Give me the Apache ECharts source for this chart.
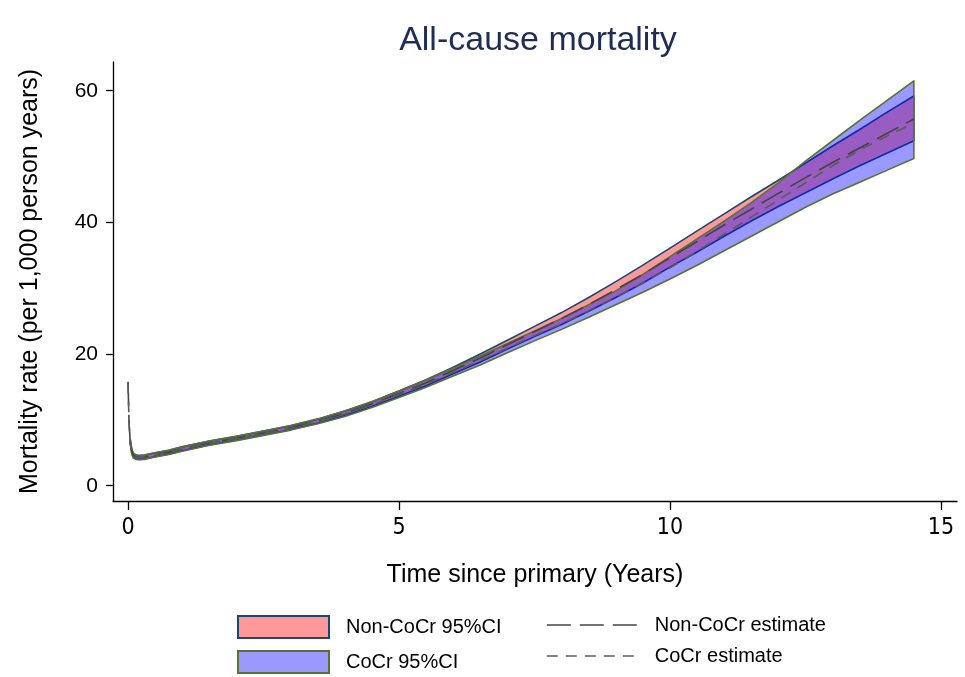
<!DOCTYPE html>
<html>
<head>
<meta charset="utf-8">
<script src="https://cdn.jsdelivr.net/npm/echarts@6/dist/echarts.min.js"></script>
<style>
html,body{margin:0;padding:0;background:#fff;}
#c{width:965px;height:677px;}
</style>
</head>
<body>
<div id="c"></div>
<script>
// ---- data ----
const time = [0,0.01,0.02,0.04,0.07,0.1,0.15,0.2,0.3,0.5,
  0.75,1,1.5,2,2.5,3,3.5,4,4.5,5,
  5.5,6,6.5,7,7.5,8,8.5,9,9.5,10,
  10.5,11,11.5,12,12.5,13,13.5,14,14.5];

const nonCoCrEstimate = [15.8,12.5,9.5,6.8,5.2,4.6,4.35,4.3,4.35,4.7,
  5.1,5.6,6.5,7.2,8.0,8.8,9.8,11.0,12.4,14.0,
  15.65,17.5,19.4,21.4,23.4,25.4,27.5,29.8,32.1,34.6,
  37.1,39.6,42.0,44.4,46.8,49.1,51.3,53.5,55.7];

const coCrEstimate = [15.7,12.4,9.4,6.7,5.1,4.5,4.3,4.25,4.3,4.65,
  5.05,5.55,6.45,7.15,7.95,8.75,9.75,10.9,12.3,13.85,
  15.45,17.2,19.0,20.9,22.8,24.6,26.6,28.6,30.8,33.1,
  35.6,38.2,40.8,43.4,46.0,48.6,51.0,53.1,55.1];

const nonCoCrUpper = [null,null,null,7.1,5.5,4.9,4.65,4.6,4.65,5.0,
  5.4,5.9,6.8,7.5,8.3,9.1,10.1,11.35,12.75,14.4,
  16.1,18.0,20.0,22.1,24.2,26.3,28.6,31.0,33.5,36.1,
  38.7,41.3,43.9,46.4,49.0,51.6,54.1,56.7,59.2];

const nonCoCrLower = [null,null,null,6.5,4.9,4.3,4.05,4.0,4.05,4.4,
  4.8,5.3,6.2,6.9,7.7,8.5,9.5,10.65,12.05,13.6,
  15.2,17.0,18.8,20.75,22.65,24.5,26.5,28.6,30.8,33.2,
  35.5,37.9,40.2,42.4,44.5,46.6,48.6,50.5,52.4];

const coCrUpper = [null,null,null,7.1,5.5,4.9,4.65,4.6,4.65,5.0,
  5.4,5.9,6.8,7.5,8.3,9.15,10.15,11.35,12.75,14.4,
  16.05,17.85,19.7,21.6,23.5,25.4,27.5,29.6,32.1,34.8,
  37.5,40.2,43.0,46.0,49.3,52.4,55.5,58.5,61.5];

const coCrLower = [null,null,null,6.4,4.8,4.2,4.0,3.95,4.0,4.35,
  4.75,5.25,6.15,6.85,7.65,8.45,9.4,10.5,11.9,13.4,
  14.95,16.65,18.35,20.2,22.0,23.75,25.6,27.5,29.4,31.4,
  33.5,35.7,37.9,40.1,42.3,44.3,46.1,47.9,49.7];

const xTicks = [0,5,10,15];
const yTicks = [0,20,40,60];

// ---- helpers ----
const pairs = (arr) => time.map((t,i) => [t, arr[i]]);

function bandRenderer(upper, lower, fill, stroke) {
  return function (params, api) {
    const idx = [];
    time.forEach((t, i) => { if (upper[i] != null && lower[i] != null) idx.push(i); });
    const top = idx.map(i => api.coord([time[i], upper[i]]));
    const bot = idx.map(i => api.coord([time[i], lower[i]])).reverse();
    return {
      type: 'polygon',
      shape: { points: top.concat(bot) },
      style: { fill: fill, stroke: stroke, lineWidth: 1.6, lineJoin: 'round' }
    };
  };
}

const NAVY = '#1a476f', GREEN = '#55752f';
const FONT = "'Liberation Sans', Arial, sans-serif";
const NARROW = "'Liberation Sans Narrow', 'DejaVu Sans Condensed', 'Liberation Sans', sans-serif";

const chart = echarts.init(document.getElementById('c'), null, {renderer:'canvas'});
chart.setOption({
  animation:false,
  backgroundColor:'#fff',
  title:{
    text:'All-cause mortality', left:533, top:19, textAlign:'center',
    textStyle:{fontSize:34, fontWeight:'normal', color:'#1f2d54', fontFamily:FONT}
  },
  grid:{left:113, right:8, top:62, bottom:176, containLabel:false},
  xAxis:{
    type:'value', min:-0.277, max:15.296,
    name:'Time since primary (Years)', nameLocation:'middle', nameGap:62,
    nameTextStyle:{fontSize:25, color:'#000', fontFamily:FONT},
    axisLine:{show:true, onZero:false, lineStyle:{color:'#000', width:1.3}},
    axisTick:{show:true, length:9, customValues:xTicks, lineStyle:{color:'#000', width:1.3}},
    axisLabel:{customValues:xTicks, margin:16, fontSize:23, color:'#000', fontFamily:NARROW},
    splitLine:{show:false}
  },
  yAxis:{
    type:'value', min:-2.32, max:64.36,
    name:'Mortality rate (per 1,000 person years)', nameLocation:'middle', nameGap:70,
    nameTextStyle:{fontSize:25, color:'#000', fontFamily:FONT},
    axisLine:{show:true, onZero:false, lineStyle:{color:'#000', width:1.3}},
    axisTick:{show:true, length:7, customValues:yTicks, lineStyle:{color:'#000', width:1.3}},
    axisLabel:{customValues:yTicks, margin:15, fontSize:21, color:'#000', fontFamily:FONT},
    splitLine:{show:false}
  },
  legend:[
    {
      left:237, top:615, orient:'vertical', padding:0, itemGap:11,
      itemWidth:91, itemHeight:22, selectedMode:false,
      textStyle:{fontSize:20, color:'#000', fontFamily:FONT, padding:[0,0,0,12]},
      data:[
        {name:'Non-CoCr 95%CI', icon:'rect', itemStyle:{color:'#ff9999', borderColor:NAVY, borderWidth:2}},
        {name:'CoCr 95%CI', icon:'rect', itemStyle:{color:'#9999ff', borderColor:GREEN, borderWidth:2}}
      ]
    },
    {
      left:546, top:615, orient:'vertical', padding:0, itemGap:11,
      itemWidth:91, itemHeight:22, selectedMode:false,
      lineStyle:{width:1.6},
      textStyle:{fontSize:20, color:'#000', fontFamily:FONT, padding:[0,0,0,12]},
      data:[
        {name:'Non-CoCr estimate', itemStyle:{opacity:0}},
        {name:'CoCr estimate', itemStyle:{opacity:0}}
      ]
    }
  ],
  series:[
    {name:'Non-CoCr 95%CI', type:'custom', data:[[time[0], nonCoCrEstimate[0]]],
      renderItem: bandRenderer(nonCoCrUpper, nonCoCrLower, 'rgba(255,0,0,0.4)', NAVY),
      itemStyle:{color:'#ff9999'}, silent:true, z:2},
    {name:'CoCr 95%CI', type:'custom', data:[[time[0], coCrEstimate[0]]],
      renderItem: bandRenderer(coCrUpper, coCrLower, 'rgba(0,0,255,0.4)', GREEN),
      itemStyle:{color:'#9999ff'}, silent:true, z:2},
    {name:'Non-CoCr estimate', type:'line', symbol:'none', data:pairs(nonCoCrEstimate),
      lineStyle:{color:'#444', width:1.6, type:[24,9]}, itemStyle:{color:'#444'}, silent:true, z:3},
    {name:'CoCr estimate', type:'line', symbol:'none', data:pairs(coCrEstimate),
      lineStyle:{color:'#5a5a5a', width:1.6, type:[11,8]}, itemStyle:{color:'#5a5a5a'}, silent:true, z:3}
  ]
});
</script>
</body>
</html>
